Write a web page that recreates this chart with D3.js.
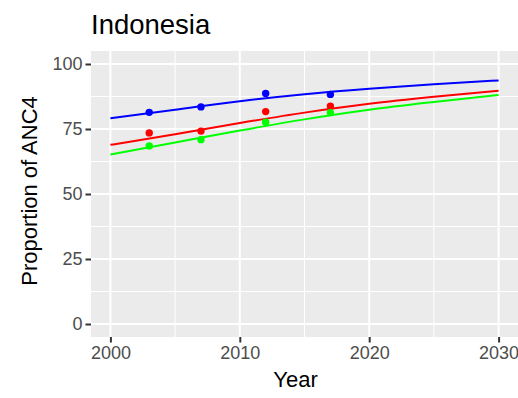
<!DOCTYPE html>
<html><head><meta charset="utf-8">
<script src="https://cdn.jsdelivr.net/npm/d3@7"></script>
<style>body{margin:0;background:#fff;} svg{display:block;font-family:"Liberation Sans",Arial,sans-serif;}</style>
</head><body>
<script>
const title = "Indonesia";
const xTicks = [2000, 2010, 2020, 2030];
const yTicks = [0, 25, 50, 75, 100];
const xMinor = [2005, 2015, 2025];
const yMinor = [12.5, 37.5, 62.5, 87.5];
const pointYears = [2003, 2007, 2012, 2017];
const blueObs = [81.4, 83.5, 88.7, 88.3];
const redObs = [73.5, 74.2, 81.7, 83.8];
const greenObs = [68.5, 70.9, 77.6, 81.3];
const curveYears = [2000, 2005, 2010, 2015, 2020, 2025, 2030];
const blueFit = [79.1, 82.4, 85.7, 88.4, 90.5, 92.2, 93.7];
const redFit = [68.9, 73.0, 77.3, 81.3, 84.7, 87.4, 89.7];
const greenFit = [65.2, 69.8, 74.4, 78.7, 82.4, 85.4, 88.1];

const W = 518, H = 398;
const L = 91, R = 518, T = 51, B = 337;
const svg = d3.select("body").append("svg").attr("width", W).attr("height", H);
const x = d3.scaleLinear().domain([1998.5, 2031.5]).range([L, R]);
const y = d3.scaleLinear().domain([-5, 105]).range([B, T]);

svg.append("rect").attr("x", L).attr("y", T).attr("width", R - L).attr("height", B - T).attr("fill", "#EBEBEB");
const g = svg.append("g");
xMinor.forEach(v => g.append("line").attr("x1", x(v)).attr("x2", x(v)).attr("y1", T).attr("y2", B).attr("stroke", "#fff").attr("stroke-width", 1));
yMinor.forEach(v => g.append("line").attr("y1", y(v)).attr("y2", y(v)).attr("x1", L).attr("x2", R).attr("stroke", "#fff").attr("stroke-width", 1));
xTicks.forEach(v => g.append("line").attr("x1", x(v)).attr("x2", x(v)).attr("y1", T).attr("y2", B).attr("stroke", "#fff").attr("stroke-width", 2));
yTicks.forEach(v => g.append("line").attr("y1", y(v)).attr("y2", y(v)).attr("x1", L).attr("x2", R).attr("stroke", "#fff").attr("stroke-width", 2));

const series = [
  {color: "#0000FF", obs: blueObs, fit: blueFit},
  {color: "#FF0000", obs: redObs, fit: redFit},
  {color: "#00FF00", obs: greenObs, fit: greenFit}
];
const line = d3.line().x(d => x(d[0])).y(d => y(d[1])).curve(d3.curveMonotoneX);
series.forEach(s => {
  svg.append("path").datum(curveYears.map((yr, i) => [yr, s.fit[i]]))
    .attr("d", line).attr("fill", "none").attr("stroke", s.color).attr("stroke-width", 2);
});
series.forEach(s => {
  svg.selectAll(null).data(pointYears.map((yr, i) => [yr, s.obs[i]])).enter().append("circle")
    .attr("cx", d => x(d[0])).attr("cy", d => y(d[1])).attr("r", 3.7).attr("fill", s.color);
});

// axes
const xAxis = svg.append("g").attr("transform", `translate(0,${B})`)
  .call(d3.axisBottom(x).tickValues(xTicks).tickFormat(d3.format("d")).tickSize(5.5).tickPadding(3));
const yAxis = svg.append("g").attr("transform", `translate(${L},0)`)
  .call(d3.axisLeft(y).tickValues(yTicks).tickSize(5.5).tickPadding(3));
[xAxis, yAxis].forEach(a => {
  a.select(".domain").remove();
  a.selectAll(".tick line").attr("stroke", "#333333").attr("stroke-width", 2);
  a.selectAll(".tick text").attr("fill", "#4D4D4D").attr("font-size", 18).attr("font-family", "Liberation Sans, Arial, sans-serif");
});
xAxis.selectAll(".tick text").attr("dy", "0.71em").attr("y", 9);

svg.append("text").attr("x", L).attr("y", 34).attr("font-size", 27.5).attr("fill", "#000").text(title);
svg.append("text").attr("x", (L + R) / 2 - 9).attr("y", 387).attr("text-anchor", "middle").attr("font-size", 22).attr("fill", "#000").text("Year");
svg.append("text").attr("transform", `translate(37,${(T + B) / 2 - 3}) rotate(-90)`).attr("text-anchor", "middle").attr("font-size", 22).attr("fill", "#000").text("Proportion of ANC4");
</script>
</body></html>
